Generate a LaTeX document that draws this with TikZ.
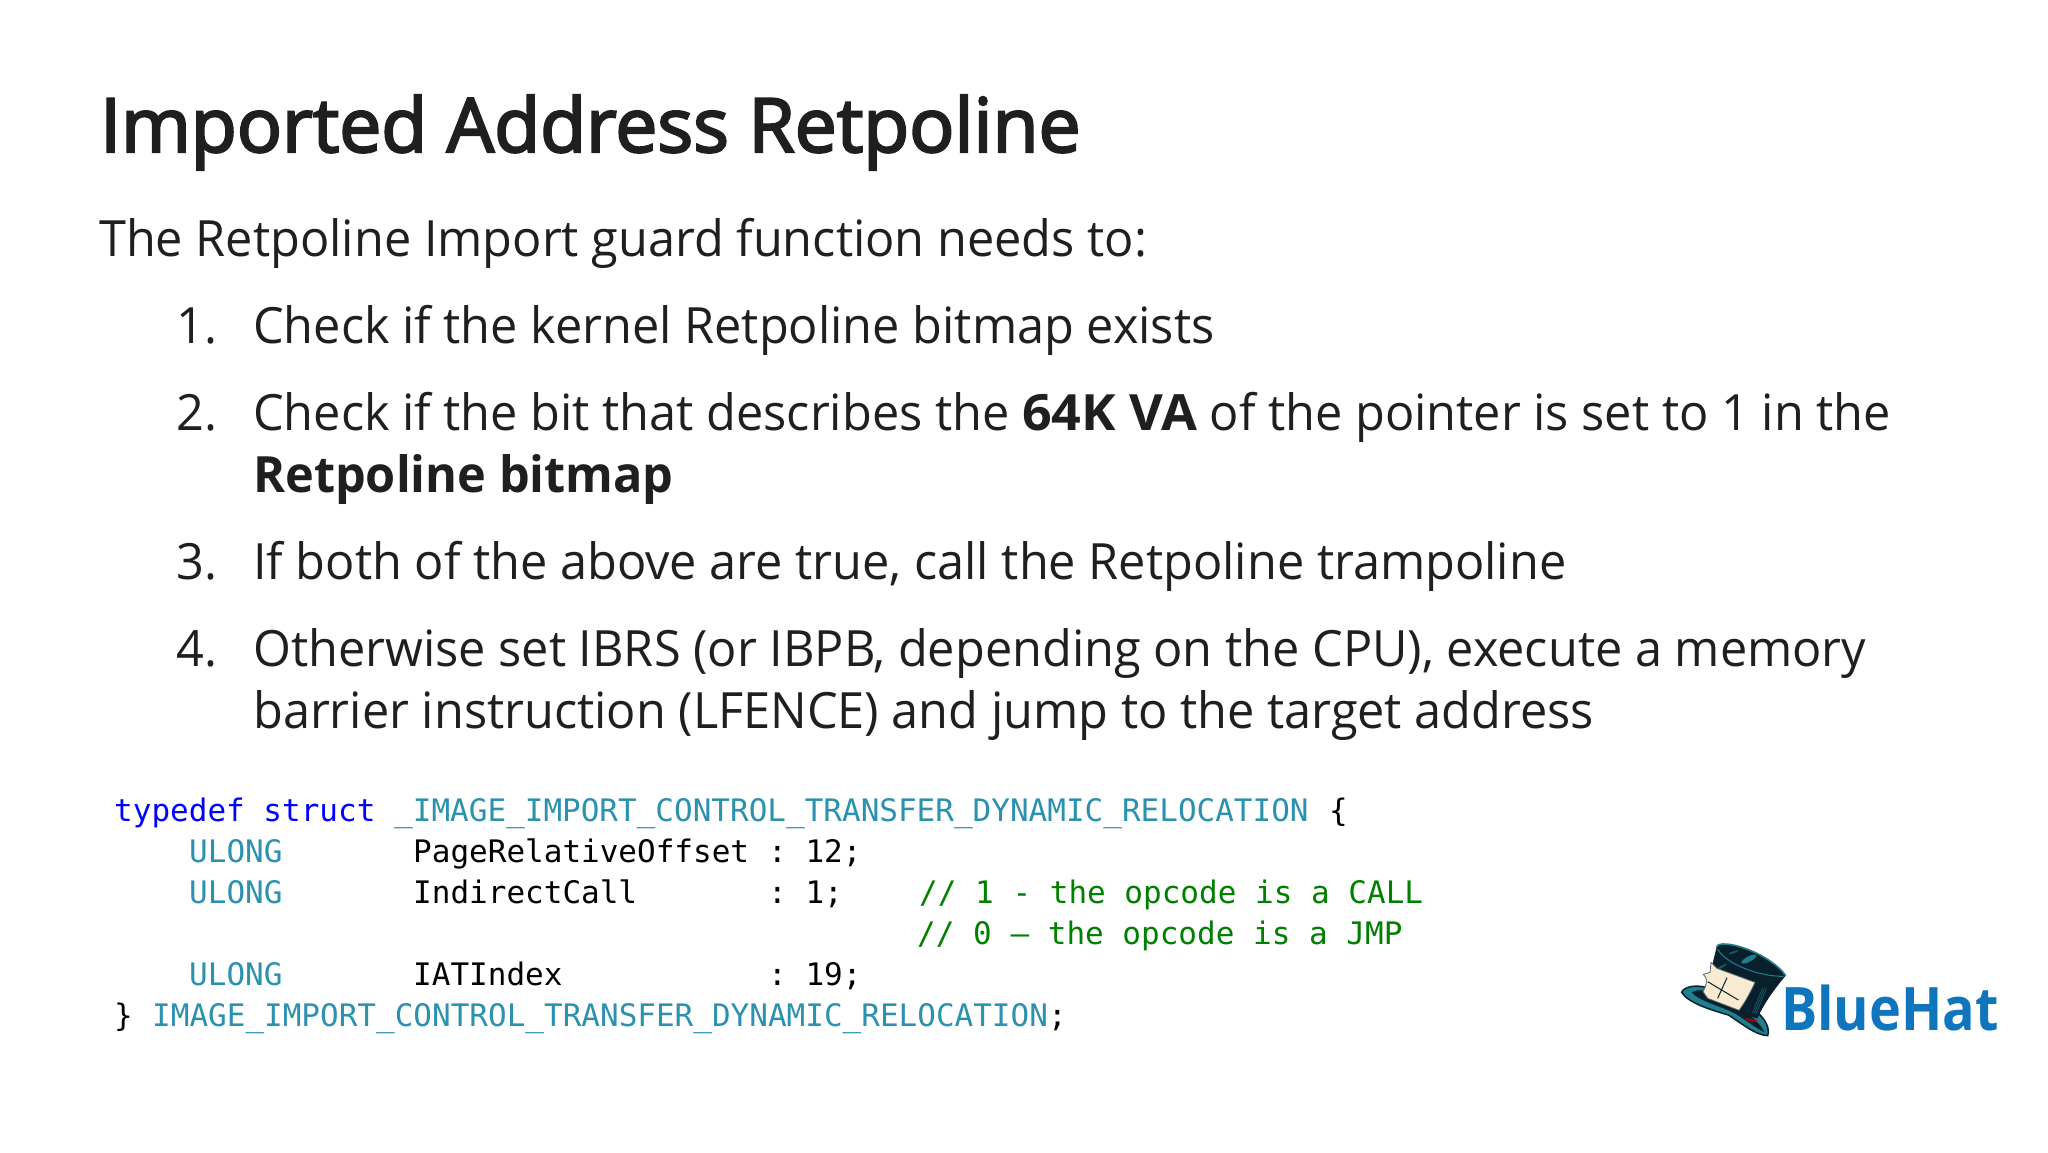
\documentclass[tikz,border=0pt]{standalone}
\usepackage{fontspec}
\setmainfont{Open Sans}[FakeStretch=0.973]
\setmonofont{DejaVu Sans Mono}
\newfontfamily\titlefont{Open Sans}[FakeBold=3,FakeStretch=1.0]
\newfontfamily\logofont{Open Sans}[FakeStretch=0.9]
\definecolor{inktext}{HTML}{1F1F1F}
\definecolor{codeblue}{HTML}{0000FF}
\definecolor{codeteal}{HTML}{2B91AF}
\definecolor{codegreen}{HTML}{008000}
\definecolor{logoblue}{HTML}{0F75BC}
\definecolor{hatdark}{HTML}{08202C}
\definecolor{hatteal}{HTML}{1F7F8F}
\definecolor{hatcream}{HTML}{F8EBD2}
\tikzset{
  textline/.style={anchor=base west,inner sep=0pt,text=inktext,font=\fontsize{50}{50}\selectfont},
  titleline/.style={textline,font=\fontsize{75}{75}\titlefont},
  codeline/.style={anchor=base west,inner sep=0pt,text=black,font=\fontsize{31}{31}\ttfamily},
  typename/.style={codeline,text=codeteal},
  keyword/.style={codeline,text=codeblue},
  remark/.style={codeline,text=codegreen},
}
\begin{document}
\begin{tikzpicture}[x=1pt,y=-1pt]
  \useasboundingbox (0,0) rectangle (2048,1152);
  \node[titleline] (title) at (100,152) {Imported Address Retpoline};
  \node[textline] (intro) at (99,256) {The Retpoline Import guard function needs to:};
  \node[textline] (numone) at (176,343) {1.};
  \node[textline] (stepone) at (253,343) {Check if the kernel Retpoline bitmap exists};
  \node[textline] (numtwo) at (176,430) {2.};
  \node[textline] (steptwo) at (253,430) {Check if the bit that describes the \textbf{\addfontfeatures{FakeStretch=1.04}64K VA} of the pointer is set to 1 in the};
  \node[textline] (steptwob) at (253,492) {\textbf{Retpoline bitmap}};
  \node[textline] (numthree) at (176,579) {3.};
  \node[textline] (stepthree) at (253,579) {If both of the above are true, call the Retpoline trampoline};
  \node[textline] (numfour) at (176,666) {4.};
  \node[textline] (stepfour) at (253,666) {Otherwise set IBRS (or IBPB, depending on the CPU), execute a memory};
  \node[textline] (stepfourb) at (253,728) {barrier instruction (LFENCE) and jump to the target address};
  % code block
  \node[keyword] (kwtypedef) at (114,821) {typedef struct};
  \node[typename] (structname) at (394,821) {\_IMAGE\_IMPORT\_CONTROL\_TRANSFER\_DYNAMIC\_RELOCATION};
  \node[codeline] (openbrace) at (1329,821) {\{};
  \node[typename] (ulongone) at (189,862) {ULONG};
  \node[codeline] (fieldone) at (413,862) {PageRelativeOffset};
  \node[codeline] (colonone) at (768,862) {: 12;};
  \node[typename] (ulongtwo) at (189,903) {ULONG};
  \node[codeline] (fieldtwo) at (413,903) {IndirectCall};
  \node[codeline] (colontwo) at (768,903) {: 1;};
  \node[remark] (remarkone) at (919,903) {// 1 - the opcode is a CALL};
  \node[remark] (remarktwo) at (917,944) {// 0 – the opcode is a JMP};
  \node[typename] (ulongthree) at (189,985) {ULONG};
  \node[codeline] (fieldthree) at (413,985) {IATIndex};
  \node[codeline] (colonthree) at (768,985) {: 19;};
  \node[codeline] (closebrace) at (114,1026) {\}};
  \node[typename] (aliasname) at (152,1026) {IMAGE\_IMPORT\_CONTROL\_TRANSFER\_DYNAMIC\_RELOCATION};
  \node[codeline] (semicolon) at (1048,1026) {;};
  % logo
  \node[anchor=base west,inner sep=0pt,text=logoblue,font=\fontsize{60}{60}\logofont] (bluehat) at (1781,1030) {\textbf{BlueHat}};
  \begin{scope}[shift={(1675,935)},scale=1/3]
    % brim
    \filldraw[fill=hatteal,draw=hatdark,line width=1.5pt] (20,172) .. controls (25,155) and (70,145) .. (105,162)
      -- (250,235) .. controls (272,255) and (285,280) .. (278,302)
      .. controls (240,300) and (200,265) .. (160,240)
      .. controls (110,225) and (40,205) .. (20,172) -- cycle;
    \fill[hatdark] (50,172) .. controls (75,160) and (95,165) .. (120,185)
      -- (235,250) .. controls (250,265) and (265,280) .. (268,292)
      .. controls (225,270) and (190,235) .. (150,222)
      .. controls (110,205) and (70,195) .. (50,172) -- cycle;
    % crown
    \fill[hatdark] (125,35) .. controls (130,22) and (170,25) .. (215,42)
      .. controls (265,60) and (315,95) .. (332,122)
      .. controls (300,160) and (270,200) .. (247,250)
      -- (200,240) -- (90,180) .. controls (100,130) and (115,80) .. (125,35) -- cycle;
    \draw[hatteal,line width=1.6pt] (125,35) .. controls (130,22) and (170,25) .. (215,42)
      .. controls (265,60) and (315,95) .. (332,122);
    \draw[hatteal,line width=1pt] (128,42) .. controls (150,85) and (250,125) .. (326,124);
    \fill[hatteal] (222,72) ellipse [x radius=25,y radius=8,rotate=28];
    \fill[hatteal!70!black] (175,52) ellipse [x radius=16,y radius=3,rotate=20];
    \fill[hatteal!70!black] (140,95) ellipse [x radius=18,y radius=3,rotate=30];
    \foreach \offs in {0,12,24}
      \draw[hatteal!80!black,line width=0.6pt] (262+\offs/2,160) -- (232+\offs/2,235);
    % band and tag
    \filldraw[fill=hatcream,draw=hatdark!70,line width=0.8pt] (108,82) -- (126,100) -- (240,142)
      .. controls (225,175) and (208,205) .. (192,226)
      -- (98,190) -- (84,170) .. controls (95,150) and (100,130) .. (85,118) -- (105,112) -- cycle;
    \draw[hatdark,line width=1pt] (156,128) -- (128,190) (98,140) -- (190,195);
    \fill[red!65!black] (208,248) -- (246,256) -- (244,262) -- (214,256) -- cycle;
  \end{scope}
\end{tikzpicture}
\end{document}
